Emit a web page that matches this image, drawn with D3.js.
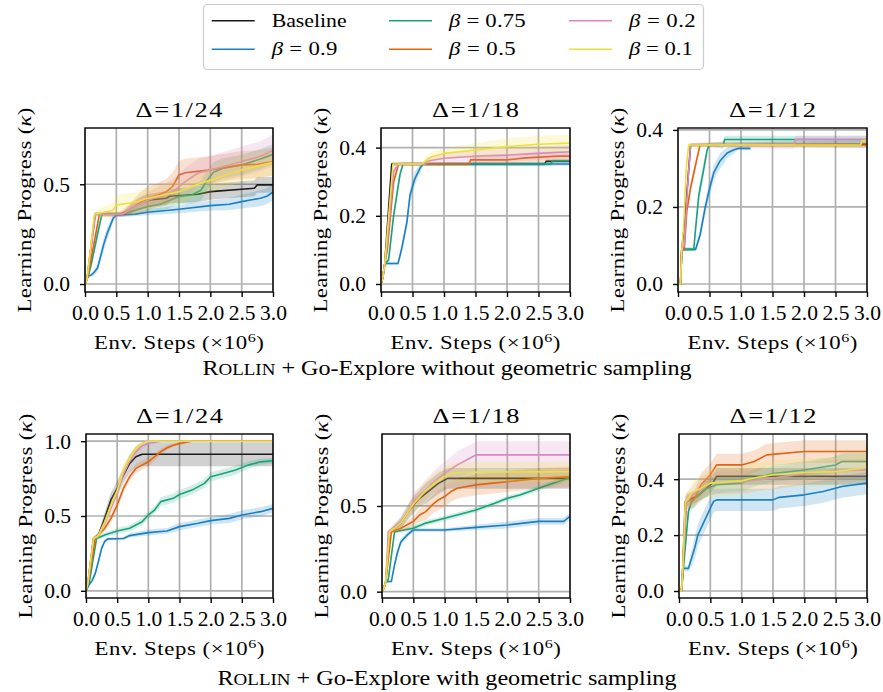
<!DOCTYPE html>
<html>
<head>
<meta charset="utf-8">
<script src="https://cdnjs.cloudflare.com/ajax/libs/d3/7.8.5/d3.min.js"></script>
<style>
  html, body { margin: 0; padding: 0; background: #fff; }
  svg { display: block; font-family: "Liberation Serif", "Times New Roman", serif; }
</style>
</head>
<body>
<svg id="chart" width="883" height="692"></svg>
<script>
// ---- series definitions ----
const seriesKeys = ["baseline", "b09", "b075", "b05", "b02", "b01"];
const seriesBeta = [null, "0.9", "0.75", "0.5", "0.2", "0.1"];
const seriesColors = ["#1a1a1a", "#1a80c4", "#17a37b", "#e0650f", "#d987c5", "#eee03c"];

const xTicks = [0, 0.5, 1.0, 1.5, 2.0, 2.5, 3.0];
const panelTitles = ["Δ=1/24", "Δ=1/18", "Δ=1/12", "Δ=1/24", "Δ=1/18", "Δ=1/12"];
const yTicksTop = [[0, 0.5], [0, 0.2, 0.4], [0, 0.2, 0.4]];
const yTicksBottom = [[0, 0.5, 1.0], [0, 0.5], [0, 0.2, 0.4]];
const captions = ["+ Go-Explore without geometric sampling", "+ Go-Explore with geometric sampling"];

// each point: [env steps (x1e6), mean learning progress, half-width of shaded band]
// ---- without geometric sampling ----
const noGeo24 = {
  baseline: [[0,0,0],[0.03,0.02,0.01],[0.16,0.35,0.01],[0.6,0.35,0.01],[0.7,0.37,0.02],[0.85,0.40,0.03],[1.0,0.42,0.03],[1.3,0.43,0.035],[1.35,0.44,0.035],[1.8,0.45,0.04],[2.0,0.463,0.04],[2.5,0.475,0.04],[2.7,0.48,0.04],[2.75,0.497,0.04],[3.0,0.497,0.04]],
  b09: [[0,0,0],[0.05,0.04,0.01],[0.1,0.045,0.01],[0.15,0.06,0.015],[0.2,0.08,0.02],[0.25,0.14,0.03],[0.3,0.2,0.035],[0.35,0.25,0.03],[0.4,0.29,0.03],[0.45,0.33,0.02],[0.5,0.346,0.01],[0.8,0.35,0.01],[1.0,0.36,0.015],[1.5,0.375,0.02],[2.0,0.393,0.025],[2.3,0.40,0.03],[2.5,0.413,0.035],[2.8,0.43,0.04],[2.9,0.44,0.04],[3.0,0.46,0.04]],
  b075: [[0,0,0],[0.05,0.04,0.01],[0.1,0.1,0.02],[0.2,0.25,0.03],[0.27,0.35,0.01],[0.6,0.35,0.01],[0.8,0.37,0.02],[1.0,0.388,0.03],[1.2,0.40,0.035],[1.5,0.438,0.04],[1.7,0.446,0.045],[1.85,0.47,0.05],[1.95,0.52,0.05],[2.05,0.56,0.05],[2.2,0.58,0.05],[2.5,0.597,0.05],[2.8,0.627,0.05],[3.0,0.65,0.05]],
  b05: [[0,0,0],[0.04,0.03,0.01],[0.23,0.35,0.01],[0.55,0.35,0.01],[0.7,0.37,0.03],[0.85,0.40,0.05],[1.0,0.43,0.06],[1.15,0.445,0.06],[1.3,0.463,0.065],[1.4,0.49,0.07],[1.5,0.547,0.07],[1.6,0.558,0.07],[2.0,0.572,0.07],[2.5,0.597,0.07],[2.75,0.60,0.07],[3.0,0.614,0.07]],
  b02: [[0,0,0],[0.03,0.02,0.01],[0.17,0.35,0.01],[0.6,0.35,0.015],[0.8,0.39,0.03],[1.0,0.42,0.04],[1.2,0.44,0.05],[1.4,0.463,0.06],[1.6,0.513,0.07],[1.8,0.555,0.07],[2.0,0.572,0.07],[2.5,0.614,0.075],[2.8,0.64,0.075],[3.0,0.67,0.08]],
  b01: [[0,0,0],[0.03,0.02,0.01],[0.15,0.35,0.01],[0.3,0.36,0.03],[0.45,0.37,0.04],[0.5,0.396,0.05],[0.8,0.41,0.05],[1.0,0.43,0.05],[1.3,0.45,0.055],[1.5,0.463,0.06],[1.8,0.50,0.06],[2.0,0.52,0.06],[2.5,0.572,0.06],[3.0,0.61,0.065]]
};
const noGeo18 = {
  baseline: [[0,0,0],[0.03,0.02,0],[0.06,0.06,0.005],[0.17,0.352,0.005],[2.6,0.352,0.005],[2.62,0.36,0.005],[3.0,0.36,0.005]],
  b09: [[0,0,0],[0.03,0.02,0],[0.06,0.06,0.005],[0.27,0.06,0.005],[0.33,0.105,0.015],[0.41,0.18,0.02],[0.46,0.26,0.02],[0.54,0.31,0.02],[0.62,0.34,0.015],[0.67,0.352,0.005],[3.0,0.352,0.005]],
  b075: [[0,0,0],[0.03,0.02,0],[0.06,0.06,0.005],[0.12,0.07,0.01],[0.2,0.2,0.02],[0.3,0.32,0.015],[0.35,0.352,0.005],[2.7,0.352,0.005],[2.72,0.361,0.005],[3.0,0.361,0.005]],
  b05: [[0,0,0],[0.03,0.02,0],[0.06,0.06,0.005],[0.1,0.1,0.01],[0.2,0.30,0.015],[0.28,0.352,0.005],[1.4,0.352,0.005],[1.42,0.364,0.01],[2.0,0.364,0.012],[2.3,0.37,0.015],[2.8,0.375,0.015],[3.0,0.375,0.015]],
  b02: [[0,0,0],[0.03,0.02,0],[0.06,0.06,0.005],[0.1,0.12,0.01],[0.2,0.33,0.01],[0.28,0.352,0.005],[0.7,0.352,0.005],[0.72,0.36,0.01],[1.0,0.369,0.015],[1.5,0.375,0.02],[2.0,0.378,0.02],[2.5,0.383,0.02],[3.0,0.388,0.02]],
  b01: [[0,0,0],[0.03,0.02,0],[0.06,0.06,0.005],[0.19,0.352,0.005],[0.65,0.352,0.005],[0.7,0.36,0.01],[0.8,0.373,0.015],[1.0,0.383,0.015],[1.5,0.393,0.02],[2.0,0.403,0.025],[2.5,0.41,0.025],[3.0,0.413,0.025]]
};
const noGeo12 = {
  baseline: [[0,0,0],[0.04,0,0],[0.06,0.09,0.005],[0.1,0.15,0.01],[0.2,0.361,0.005],[3.0,0.363,0.01]],
  b09: [[0,0,0],[0.04,0,0],[0.06,0.09,0.005],[0.28,0.09,0.005],[0.35,0.127,0.015],[0.43,0.197,0.02],[0.49,0.24,0.02],[0.57,0.29,0.02],[0.67,0.32,0.02],[0.78,0.34,0.015],[0.88,0.348,0.01],[0.95,0.352,0.005],[1.15,0.352,0.005]],
  b075: [[0,0,0],[0.04,0,0],[0.06,0.09,0.005],[0.25,0.09,0.005],[0.28,0.145,0.015],[0.33,0.23,0.02],[0.41,0.3,0.02],[0.46,0.345,0.01],[0.49,0.361,0.005],[0.72,0.361,0.01],[0.74,0.375,0.01],[3.0,0.375,0.01]],
  b05: [[0,0,0],[0.04,0,0],[0.06,0.09,0.005],[0.1,0.09,0.005],[0.14,0.19,0.015],[0.2,0.25,0.015],[0.28,0.31,0.015],[0.35,0.361,0.005],[3.0,0.361,0.005]],
  b02: [[0,0,0],[0.04,0,0],[0.06,0.09,0.005],[0.1,0.1,0.01],[0.15,0.25,0.015],[0.2,0.361,0.005],[1.84,0.361,0.01],[1.86,0.375,0.01],[3.0,0.375,0.01]],
  b01: [[0,0,0],[0.04,0,0],[0.06,0.09,0.005],[0.09,0.15,0.01],[0.13,0.3,0.01],[0.17,0.361,0.005],[2.9,0.361,0.005],[2.92,0.372,0.005],[3.0,0.372,0.005]]
};

// ---- with geometric sampling ----
const geo24 = {
  baseline: [[0,0,0],[0.03,0.05,0.01],[0.12,0.35,0.01],[0.2,0.373,0.02],[0.3,0.484,0.04],[0.4,0.607,0.05],[0.5,0.684,0.05],[0.6,0.773,0.05],[0.7,0.851,0.06],[0.8,0.896,0.07],[0.9,0.913,0.08],[3.0,0.913,0.08]],
  b09: [[0,0,0],[0.05,0.04,0.01],[0.1,0.07,0.015],[0.15,0.118,0.02],[0.2,0.196,0.025],[0.25,0.284,0.02],[0.3,0.33,0.015],[0.35,0.347,0.01],[0.6,0.35,0.01],[0.7,0.369,0.015],[1.0,0.389,0.02],[1.3,0.40,0.02],[1.5,0.429,0.025],[1.8,0.451,0.025],[2.0,0.469,0.025],[2.3,0.484,0.03],[2.5,0.507,0.03],[2.8,0.529,0.03],[3.0,0.551,0.03]],
  b075: [[0,0,0],[0.05,0.05,0.01],[0.17,0.35,0.01],[0.3,0.373,0.015],[0.5,0.40,0.02],[0.7,0.418,0.02],[0.9,0.462,0.025],[1.0,0.507,0.025],[1.1,0.54,0.025],[1.2,0.596,0.03],[1.4,0.618,0.03],[1.5,0.644,0.03],[1.7,0.673,0.03],[1.9,0.718,0.03],[2.0,0.762,0.03],[2.2,0.784,0.03],[2.4,0.807,0.03],[2.6,0.84,0.025],[2.8,0.862,0.02],[3.0,0.869,0.02]],
  b05: [[0,0,0],[0.03,0.04,0.01],[0.15,0.35,0.01],[0.3,0.418,0.02],[0.4,0.484,0.03],[0.5,0.573,0.03],[0.6,0.684,0.03],[0.7,0.762,0.03],[0.8,0.818,0.03],[0.9,0.84,0.03],[1.0,0.862,0.03],[1.1,0.896,0.025],[1.2,0.93,0.02],[1.3,0.956,0.015],[1.4,0.973,0.01],[1.5,0.984,0.01],[1.7,1.0,0],[3.0,1.0,0]],
  b02: [[0,0,0],[0.03,0.05,0.01],[0.12,0.35,0.01],[0.2,0.37,0.02],[0.3,0.45,0.03],[0.4,0.55,0.04],[0.5,0.65,0.04],[0.6,0.78,0.04],[0.7,0.87,0.03],[0.8,0.93,0.03],[0.9,0.97,0.02],[1.0,0.985,0.01],[1.2,1.0,0],[3.0,1.0,0]],
  b01: [[0,0,0],[0.03,0.05,0.01],[0.12,0.35,0.01],[0.2,0.37,0.02],[0.3,0.46,0.03],[0.4,0.57,0.04],[0.5,0.67,0.04],[0.6,0.807,0.04],[0.7,0.884,0.03],[0.8,0.951,0.02],[0.9,0.984,0.01],[1.0,1.0,0],[3.0,1.0,0]]
};
const geo18 = {
  baseline: [[0,0,0],[0.03,0.02,0],[0.06,0.06,0.005],[0.12,0.35,0.01],[0.2,0.37,0.02],[0.3,0.40,0.03],[0.4,0.457,0.04],[0.5,0.506,0.05],[0.6,0.545,0.05],[0.7,0.574,0.06],[0.8,0.603,0.06],[0.9,0.632,0.06],[1.0,0.652,0.06],[1.05,0.661,0.06],[3.0,0.661,0.06]],
  b09: [[0,0,0],[0.03,0.02,0],[0.06,0.058,0.005],[0.15,0.06,0.005],[0.2,0.156,0.02],[0.25,0.233,0.02],[0.3,0.29,0.02],[0.4,0.33,0.015],[0.5,0.36,0.01],[1.0,0.36,0.01],[1.5,0.375,0.015],[2.0,0.389,0.02],[2.5,0.41,0.02],[2.9,0.41,0.02],[3.0,0.44,0.02]],
  b075: [[0,0,0],[0.03,0.02,0],[0.06,0.058,0.005],[0.1,0.07,0.01],[0.2,0.35,0.01],[0.5,0.37,0.015],[0.7,0.40,0.015],[1.0,0.428,0.015],[1.2,0.447,0.015],[1.5,0.477,0.015],[1.8,0.516,0.015],[2.0,0.545,0.015],[2.2,0.564,0.015],[2.5,0.603,0.015],[2.8,0.642,0.015],[3.0,0.665,0.015]],
  b05: [[0,0,0],[0.03,0.02,0],[0.06,0.058,0.005],[0.15,0.35,0.01],[0.3,0.37,0.02],[0.5,0.41,0.03],[0.6,0.447,0.04],[0.7,0.467,0.05],[0.8,0.506,0.05],[0.9,0.535,0.06],[1.0,0.555,0.06],[1.1,0.584,0.06],[1.2,0.603,0.06],[1.5,0.623,0.06],[2.0,0.642,0.06],[2.5,0.661,0.06],[3.0,0.671,0.06]],
  b02: [[0,0,0],[0.03,0.02,0],[0.06,0.058,0.005],[0.1,0.35,0.01],[0.2,0.38,0.02],[0.3,0.41,0.03],[0.4,0.457,0.04],[0.5,0.525,0.05],[0.6,0.564,0.05],[0.7,0.593,0.06],[0.8,0.632,0.06],[0.9,0.661,0.07],[1.0,0.69,0.07],[1.1,0.716,0.07],[1.2,0.739,0.08],[1.3,0.759,0.08],[1.4,0.778,0.08],[1.5,0.798,0.08],[3.0,0.798,0.08]],
  b01: [[0,0,0],[0.03,0.02,0],[0.06,0.058,0.005],[0.12,0.35,0.01],[0.2,0.37,0.02],[0.3,0.40,0.03],[0.4,0.457,0.04],[0.5,0.51,0.05],[0.6,0.55,0.05],[0.7,0.59,0.06],[0.8,0.62,0.06],[0.9,0.65,0.06],[1.0,0.671,0.06],[1.1,0.69,0.06],[1.3,0.697,0.06],[3.0,0.70,0.06]]
};
const geo12 = {
  baseline: [[0,0,0],[0.04,0,0],[0.06,0.081,0.01],[0.1,0.32,0.02],[0.3,0.34,0.02],[0.45,0.37,0.03],[0.55,0.39,0.03],[0.6,0.41,0.03],[3.0,0.41,0.03]],
  b09: [[0,0,0],[0.04,0,0],[0.07,0.081,0.01],[0.15,0.081,0.01],[0.2,0.117,0.03],[0.25,0.153,0.04],[0.3,0.2,0.04],[0.4,0.248,0.04],[0.5,0.296,0.04],[0.55,0.32,0.04],[0.6,0.326,0.04],[1.5,0.326,0.04],[1.6,0.335,0.04],[2.0,0.344,0.04],[2.3,0.356,0.04],[2.6,0.374,0.04],[3.0,0.386,0.04]],
  b075: [[0,0,0],[0.04,0,0],[0.07,0.081,0.01],[0.15,0.284,0.03],[0.2,0.32,0.03],[0.4,0.362,0.03],[0.6,0.38,0.03],[1.0,0.386,0.03],[1.2,0.404,0.03],[1.5,0.42,0.03],[2.0,0.433,0.03],[2.5,0.451,0.03],[2.6,0.463,0.03],[3.0,0.463,0.03]],
  b05: [[0,0,0],[0.04,0,0],[0.06,0.081,0.01],[0.12,0.32,0.03],[0.25,0.33,0.03],[0.35,0.38,0.04],[0.5,0.416,0.04],[0.6,0.451,0.04],[1.0,0.451,0.04],[1.2,0.463,0.04],[1.4,0.487,0.04],[2.0,0.499,0.04],[3.0,0.499,0.04]],
  b02: [[0,0,0],[0.04,0,0],[0.06,0.081,0.01],[0.12,0.32,0.03],[0.3,0.36,0.04],[0.5,0.386,0.04],[1.0,0.39,0.04],[1.5,0.404,0.04],[2.0,0.42,0.04],[2.5,0.43,0.04],[3.0,0.433,0.04]],
  b01: [[0,0,0],[0.04,0,0],[0.06,0.081,0.01],[0.1,0.32,0.03],[0.15,0.33,0.03],[0.2,0.35,0.04],[0.5,0.386,0.05],[1.0,0.394,0.05],[1.2,0.404,0.05],[1.5,0.416,0.05],[2.0,0.424,0.05],[2.5,0.427,0.05],[3.0,0.442,0.05]]
};

// ---- layout ----
const svg = d3.select("#chart");
const panelBoxes = [
  { x0: 85,  x1: 273, y0: 128, y1: 292, yDomain: [-0.040, 0.782], ticks: yTicksTop[0],    data: noGeo24 },
  { x0: 381, x1: 570, y0: 128, y1: 292, yDomain: [-0.0235, 0.4575], ticks: yTicksTop[1],  data: noGeo18 },
  { x0: 678, x1: 867, y0: 128, y1: 292, yDomain: [-0.0208, 0.405], ticks: yTicksTop[2],   data: noGeo12 },
  { x0: 86,  x1: 273, y0: 434, y1: 598, yDomain: [-0.048, 1.048], ticks: yTicksBottom[0], data: geo24 },
  { x0: 382, x1: 570, y0: 434, y1: 598, yDomain: [-0.037, 0.92], ticks: yTicksBottom[1],  data: geo18 },
  { x0: 679, x1: 867, y0: 434, y1: 598, yDomain: [-0.025, 0.5616], ticks: yTicksBottom[2], data: geo12 }
];

const fmt = d3.format(".1f");

// Places a text element at (tx, ty), optionally rotated, and widens it to the
// requested width: mostly by stretching the glyphs, any rest by letter spacing.
function fittedText(parent, tx, ty, rot, size, width, anchor, build) {
  const g = parent.append("g")
    .attr("transform", `translate(${tx},${ty})` + (rot ? ` rotate(${rot})` : ""));
  const t = g.append("text").attr("x", 0).attr("y", 0)
    .attr("text-anchor", anchor).style("font-size", size + "px");
  build(t);
  const maxStretch = 1.2;
  let w = t.node().getBBox().width;
  if (w > 0 && width / w > maxStretch) {
    const n = t.node().getNumberOfChars();
    const ls = (width / maxStretch - w) / Math.max(n - 1, 1);
    t.style("letter-spacing", ls + "px");
    if (anchor === "middle") t.attr("x", ls / 2);
    w = t.node().getBBox().width - ls;
  }
  if (w > 0) t.attr("transform", `scale(${width / w},1)`);
  return t;
}

panelBoxes.forEach((p, i) => {
  const x = d3.scaleLinear().domain([0, 3]).range([p.x0, p.x1]);
  const y = d3.scaleLinear().domain(p.yDomain).range([p.y1, p.y0]);
  const g = svg.append("g");

  const clipId = "clip" + i;
  svg.append("clipPath").attr("id", clipId)
    .append("rect").attr("x", p.x0).attr("y", p.y0)
    .attr("width", p.x1 - p.x0).attr("height", p.y1 - p.y0);

  // grid
  const grid = g.append("g").attr("stroke", "#b0b0b0").attr("stroke-width", 1.7);
  grid.selectAll(".gx").data(xTicks).join("line")
    .attr("x1", d => x(d)).attr("x2", d => x(d)).attr("y1", p.y0).attr("y2", p.y1);
  grid.selectAll(".gy").data(p.ticks).join("line")
    .attr("x1", p.x0).attr("x2", p.x1).attr("y1", d => y(d)).attr("y2", d => y(d));

  // bands and mean curves
  const plot = g.append("g").attr("clip-path", `url(#${clipId})`);
  const area = d3.area().x(d => x(d[0])).y0(d => y(d[1] - d[2])).y1(d => y(d[1] + d[2]));
  const line = d3.line().x(d => x(d[0])).y(d => y(d[1]));
  seriesKeys.forEach((k, si) => {
    const pts = p.data[k];
    plot.append("path").attr("d", area(pts))
      .attr("fill", seriesColors[si]).attr("fill-opacity", 0.2).attr("stroke", "none");
    plot.append("path").attr("d", line(pts))
      .attr("fill", "none").attr("stroke", seriesColors[si])
      .attr("stroke-width", 1.6).attr("stroke-linejoin", "round");
  });

  // spines
  g.append("rect").attr("x", p.x0).attr("y", p.y0)
    .attr("width", p.x1 - p.x0).attr("height", p.y1 - p.y0)
    .attr("fill", "none").attr("stroke", "#000").attr("stroke-width", 1.4);

  // axes
  const xAxis = g.append("g").attr("transform", `translate(0,${p.y1})`)
    .call(d3.axisBottom(x).tickValues(xTicks).tickFormat(fmt).tickSize(5).tickPadding(8.2));
  const yAxis = g.append("g").attr("transform", `translate(${p.x0},0)`)
    .call(d3.axisLeft(y).tickValues(p.ticks).tickFormat(fmt).tickSize(5).tickPadding(10));
  [xAxis, yAxis].forEach(a => {
    a.select(".domain").remove();
    a.selectAll(".tick line").attr("stroke", "#000").attr("stroke-width", 1.4);
    a.selectAll(".tick text").attr("fill", "#000").style("font-size", "21.5px")
      .style("font-family", "'Liberation Serif', serif");
  });

  const cx = (p.x0 + p.x1) / 2;
  // title
  fittedText(g, cx, p.y0 - 11.5, 0, 22, 87, "middle", t => t.text(panelTitles[i]));

  // x label
  fittedText(g, cx, p.y1 + 57, 0, 19, 170, "middle", t => {
    t.append("tspan").text("Env. Steps (×10");
    t.append("tspan").attr("dy", -7).style("font-size", "13.5px").text("6");
    t.append("tspan").attr("dy", 7).text(")");
  });

  // y label
  fittedText(g, p.x0 - 54, (p.y0 + p.y1) / 2, -90, 19, 205, "middle", t => {
    t.append("tspan").text("Learning Progress (");
    t.append("tspan").style("font-style", "italic").text("κ");
    t.append("tspan").text(")");
  });
});

// ---- captions ----
const captionWidths = [490, 460];
[375, 685].forEach((yy, ci) => {
  fittedText(svg, 447, yy, 0, 21, captionWidths[ci], "middle", t => {
    t.append("tspan").text("R");
    t.append("tspan").style("font-size", "16.5px").text("OLLIN");
    t.append("tspan").text(" " + captions[ci]);
  });
});

// ---- legend ----
const legend = svg.append("g");
legend.append("rect").attr("x", 203.5).attr("y", 4.5).attr("width", 500).attr("height", 65)
  .attr("rx", 4).attr("fill", "#fff").attr("stroke", "#cccccc").attr("stroke-width", 1.2);
const legCols = [211.7, 389, 569];
const legRows = [20.7, 49.3];
const legWidths = [75, 67, 78, 68, 68, 65];
seriesKeys.forEach((k, si) => {
  const col = Math.floor(si / 2), row = si % 2;
  const lx = legCols[col], ly = legRows[row];
  legend.append("line").attr("x1", lx).attr("x2", lx + 43).attr("y1", ly).attr("y2", ly)
    .attr("stroke", seriesColors[si]).attr("stroke-width", 1.6);
  fittedText(legend, lx + 60, ly + 6, 0, 19, legWidths[si], "start", t => {
    if (seriesBeta[si] === null) {
      t.text("Baseline");
    } else {
      t.append("tspan").style("font-style", "italic").text("β");
      t.append("tspan").text(" = " + seriesBeta[si]);
    }
  });
});
</script>
</body>
</html>
